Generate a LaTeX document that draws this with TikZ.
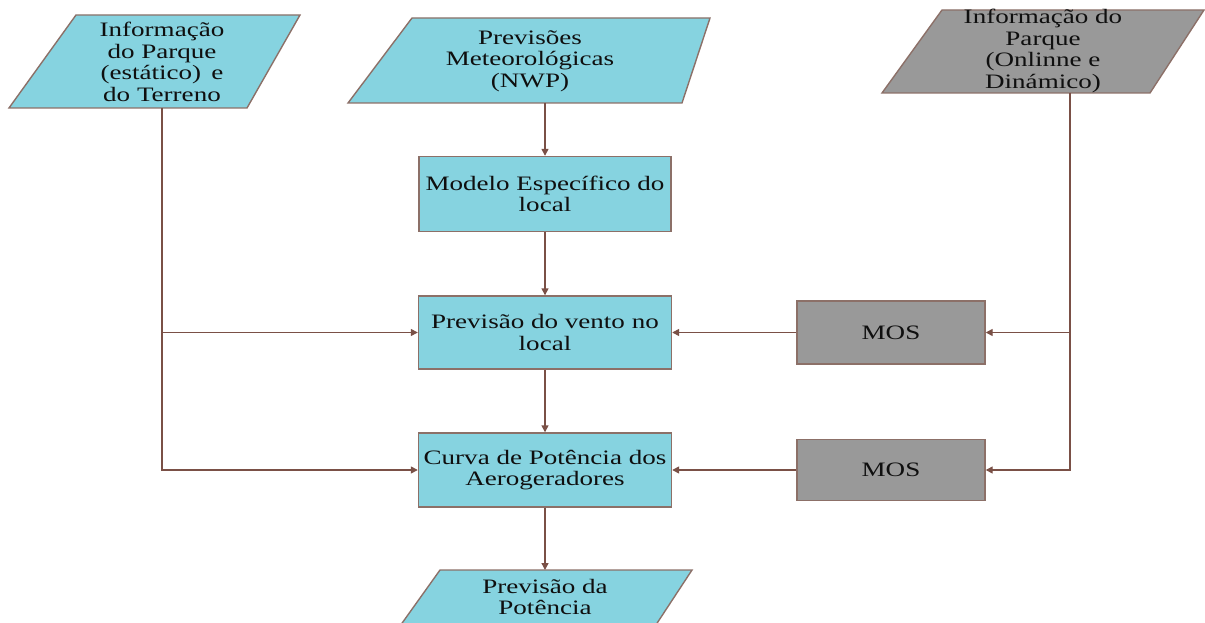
\documentclass[tikz,border=0pt]{standalone}
\usepackage{fontspec}
\setmainfont{Liberation Serif}[FakeStretch=1.32]
\usetikzlibrary{arrows.meta}
\definecolor{boxcyan}{RGB}{134,211,224}
\definecolor{boxgray}{RGB}{153,153,153}
\definecolor{edge}{RGB}{140,112,104}
\definecolor{flow}{RGB}{122,80,70}
\definecolor{ink}{RGB}{15,15,15}
\tikzset{
  x=1pt, y=-1pt,
  lbl/.style={align=center, text=ink, font=\fontsize{20.5}{21.5}\selectfont, inner sep=0pt},
  procbox/.style={draw=edge, line width=1.4pt, fill=boxcyan, lbl, inner sep=0pt},
  mosbox/.style={draw=edge, line width=1.4pt, fill=boxgray, lbl, inner sep=0pt},
  iocyan/.style={draw=edge, line width=1.4pt, fill=boxcyan, line join=miter},
  iogray/.style={draw=edge, line width=1.4pt, fill=boxgray, line join=miter},
  flowline/.style={draw=flow, line width=1.4pt},
  flowarrow/.style={flowline, -{Triangle[length=7pt,width=7pt]}}
}
\begin{document}
\begin{tikzpicture}
\useasboundingbox (0,0) rectangle (1205,623);

% input / output parallelograms
\draw[iocyan] (76,15) -- (300,15) -- (247,108) -- (9,108) -- cycle;
\node[lbl] (parque) at (162,62) {Informação\\do Parque\\(estático)\enspace e\\do Terreno};
\coordinate (parque-out) at (162,108);

\draw[iocyan] (412,18) -- (710,18) -- (682,103) -- (348,103) -- cycle;
\node[lbl] (nwp) at (530,61) {Previsões\\Meteorológicas\\(NWP)};
\coordinate (nwp-out) at (545,103);

\draw[iogray] (942,10) -- (1204,10) -- (1150,93) -- (882,93) -- cycle;
\node[lbl] (online) at (1043,51) {Informação do\\Parque\\(Onlinne e\\Dinámico)};
\coordinate (online-out) at (1070,93);

\draw[iocyan] (440,570) -- (692,570) -- (646,640) -- (390,640) -- cycle;
\node[lbl] (potencia) at (545,597) {Previsão da\\Potência};
\coordinate (potencia-in) at (545,570);

% process boxes
\node[procbox, minimum width=252pt, minimum height=75pt] (modelo) at (545,194) {Modelo Específico do\\local};
\node[procbox, minimum width=253pt, minimum height=73pt] (vento) at (545,332.5) {Previsão do vento no\\local};
\node[procbox, minimum width=253pt, minimum height=74pt] (curva) at (545,470) {Curva de Potência dos\\Aerogeradores};
\node[mosbox, minimum width=188pt, minimum height=63pt] (mos1) at (891,332.5) {MOS};
\node[mosbox, minimum width=188pt, minimum height=61pt] (mos2) at (891,470) {MOS};

% connectors
\draw[flowarrow] (nwp-out) -- (modelo.north);
\draw[flowarrow] (modelo.south) -- (vento.north);
\draw[flowarrow] (vento.south) -- (curva.north);
\draw[flowarrow] (curva.south) -- (potencia-in);

\draw[flowarrow] (parque-out) |- (curva.west);
\draw[flowarrow] (parque-out |- vento.west) -- (vento.west);

\draw[flowarrow] (online-out) |- (mos2.east);
\draw[flowarrow] (online-out |- mos1.east) -- (mos1.east);

\draw[flowarrow] (mos1.west) -- (vento.east);
\draw[flowarrow] (mos2.west) -- (curva.east);
\end{tikzpicture}
\end{document}
